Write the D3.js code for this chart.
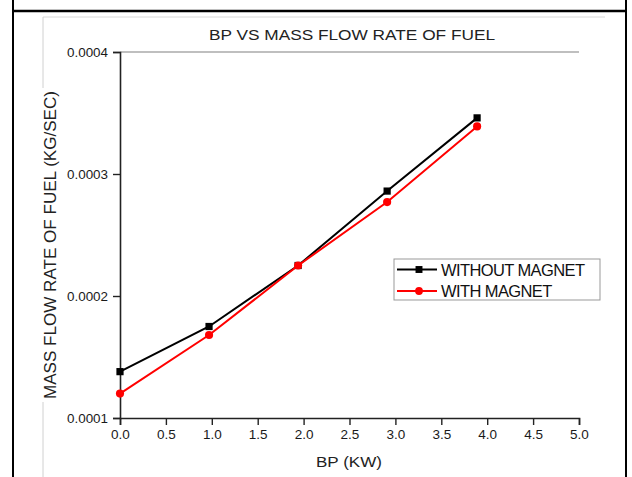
<!DOCTYPE html>
<html>
<head>
<meta charset="utf-8">
<script src="https://cdn.jsdelivr.net/npm/d3@7"></script>
<style>
  body { margin: 0; background: #fff; }
  text { font-family: "Liberation Sans", Arial, sans-serif; }
</style>
</head>
<body>
<svg width="632" height="477"></svg>
<script>
// data
const bp = [0, 0.97, 1.94, 2.91, 3.89];
const withoutMagnet = [0.000138, 0.000175, 0.000225, 0.000286, 0.000346];
const withMagnet = [0.000120, 0.000168, 0.000225, 0.000277, 0.000339];
const xTicks = [0, 0.5, 1, 1.5, 2, 2.5, 3, 3.5, 4, 4.5, 5];
const yTicks = [0.0001, 0.0002, 0.0003, 0.0004];
const seriesNames = ['WITHOUT MAGNET', 'WITH MAGNET'];

const svg = d3.select('svg');
const width = +svg.attr('width');
const height = +svg.attr('height');

// outer page frame (table cell look)
svg.append('line').attr('x1', 13).attr('x2', 13).attr('y1', 0).attr('y2', height)
  .attr('stroke', '#000').attr('stroke-width', 2);
svg.append('line').attr('x1', 626).attr('x2', 626).attr('y1', 0).attr('y2', height)
  .attr('stroke', '#000').attr('stroke-width', 2);
svg.append('line').attr('x1', 13).attr('x2', 626).attr('y1', 11).attr('y2', 11)
  .attr('stroke', '#000').attr('stroke-width', 2.5);
// faint picture border
svg.append('line').attr('x1', 43).attr('x2', 605).attr('y1', 17).attr('y2', 17)
  .attr('stroke', '#d8d8d8').attr('stroke-width', 1);
svg.append('line').attr('x1', 43).attr('x2', 43).attr('y1', 17).attr('y2', height)
  .attr('stroke', '#d0d0d0').attr('stroke-width', 1);

const margin = { top: 52, right: 53, bottom: 59, left: 120 };
const innerWidth = width - margin.left - margin.right;
const innerHeight = height - margin.top - margin.bottom;

const x = d3.scaleLinear().domain([0, 5]).range([0, innerWidth]);
const y = d3.scaleLinear().domain([0.0001, 0.0004]).range([innerHeight, 0]);

const g = svg.append('g').attr('transform', `translate(${margin.left},${margin.top})`);

// top frame line
g.append('line').attr('x1', 0).attr('x2', innerWidth).attr('y1', 0).attr('y2', 0)
  .attr('stroke', '#aaa').attr('stroke-width', 1.5);

const xAxis = g.append('g').attr('transform', `translate(0,${innerHeight})`)
  .call(d3.axisBottom(x).tickValues(xTicks).tickFormat(d3.format('.1f')).tickSize(7).tickPadding(4));
const yAxis = g.append('g')
  .call(d3.axisLeft(y).tickValues(yTicks).tickFormat(d3.format('.4f')).tickSize(7).tickPadding(5));

[xAxis, yAxis].forEach(a => {
  a.attr('font-family', '"Liberation Sans", Arial, sans-serif');
  a.select('.domain').attr('stroke', '#222').attr('stroke-width', 1.6);
  a.selectAll('.tick line').attr('stroke', '#222').attr('stroke-width', 1.4);
  a.selectAll('.tick text').attr('fill', '#1a1a1a');
});
xAxis.attr('font-size', 13.5);
yAxis.attr('font-size', 13.5);
yAxis.selectAll('.tick text').attr('textLength', 41).attr('lengthAdjust', 'spacingAndGlyphs');

// title and axis labels
svg.append('text').attr('x', 352).attr('y', 40).attr('text-anchor', 'middle')
  .attr('font-size', 15).attr('fill', '#222')
  .attr('textLength', 286).attr('lengthAdjust', 'spacingAndGlyphs')
  .text('BP VS MASS FLOW RATE OF FUEL');
svg.append('text').attr('x', 349).attr('y', 467).attr('text-anchor', 'middle')
  .attr('font-size', 15).attr('fill', '#222')
  .attr('textLength', 66).attr('lengthAdjust', 'spacingAndGlyphs')
  .text('BP (KW)');
svg.append('rect').attr('x', 38).attr('y', 88).attr('width', 20).attr('height', 314).attr('fill', '#fff');
svg.append('text').attr('transform', 'translate(56,245) rotate(-90)').attr('text-anchor', 'middle')
  .attr('font-size', 16).attr('fill', '#222')
  .attr('textLength', 308).attr('lengthAdjust', 'spacingAndGlyphs')
  .text('MASS FLOW RATE OF FUEL (KG/SEC)');

// series
const series = [
  { name: seriesNames[0], values: withoutMagnet, color: '#000000', shape: d3.symbolSquare },
  { name: seriesNames[1], values: withMagnet, color: '#ff0000', shape: d3.symbolCircle }
];

const line = d3.line().x((d, i) => x(bp[i])).y(d => y(d));

series.forEach(s => {
  g.append('path').datum(s.values)
    .attr('fill', 'none').attr('stroke', s.color).attr('stroke-width', 2)
    .attr('d', line);
  g.selectAll(null).data(s.values).enter().append('path')
    .attr('transform', (d, i) => `translate(${x(bp[i])},${y(d)})`)
    .attr('d', d3.symbol().type(s.shape).size(52))
    .attr('fill', s.color);
});

// legend
const legend = svg.append('g').attr('transform', 'translate(394,259)');
legend.append('rect').attr('width', 206).attr('height', 41)
  .attr('fill', '#fff').attr('stroke', '#999').attr('stroke-width', 1);
series.forEach((s, i) => {
  const row = legend.append('g').attr('transform', `translate(0,${10.5 + i * 21.5})`);
  row.append('line').attr('x1', 3).attr('x2', 43).attr('stroke', s.color).attr('stroke-width', 2);
  row.append('path').attr('transform', 'translate(25,0)')
    .attr('d', d3.symbol().type(s.shape).size(48)).attr('fill', s.color);
  row.append('text').attr('x', 47).attr('y', 6).attr('font-size', 16.5).attr('fill', '#111')
    .attr('letter-spacing', -0.6)
    .text(s.name);
});
</script>
</body>
</html>
